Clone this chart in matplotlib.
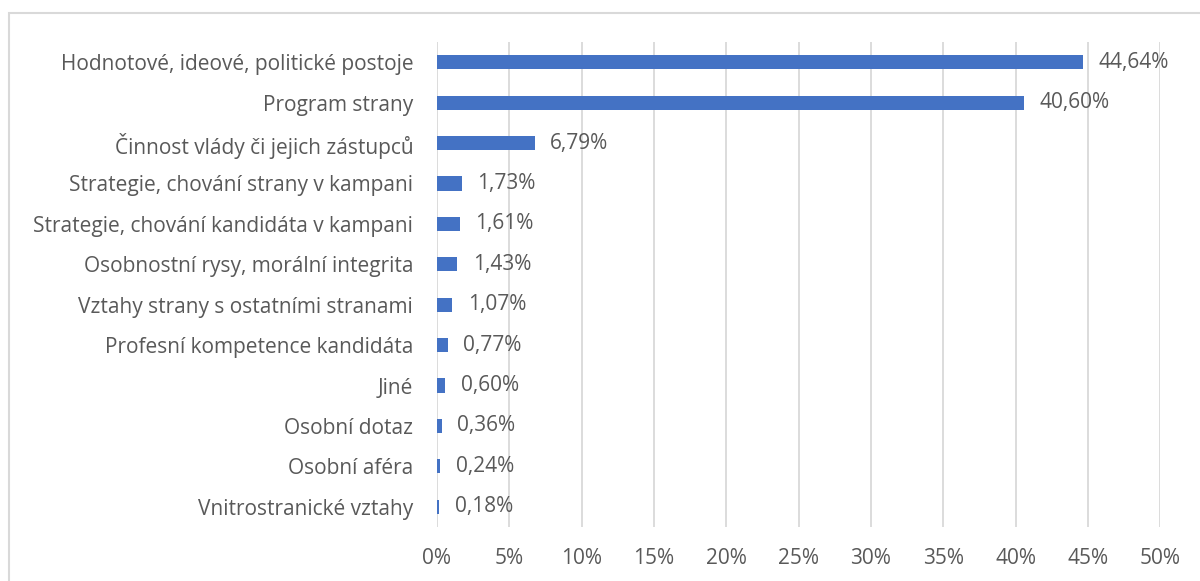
import matplotlib
matplotlib.use("Agg")
import matplotlib.pyplot as plt
from matplotlib.patches import Rectangle
from matplotlib.ticker import MultipleLocator, FuncFormatter

categories = [
    "Hodnotové, ideové, politické postoje",
    "Program strany",
    "Činnost vlády či jejich zástupců",
    "Strategie, chování strany v kampani",
    "Strategie, chování kandidáta v kampani",
    "Osobnostní rysy, morální integrita",
    "Vztahy strany s ostatními stranami",
    "Profesní kompetence kandidáta",
    "Jiné",
    "Osobní dotaz",
    "Osobní aféra",
    "Vnitrostranické vztahy",
]
shares = [44.64, 40.60, 6.79, 1.73, 1.61, 1.43, 1.07, 0.77, 0.60, 0.36, 0.24, 0.18]

text_color = "#595959"
grid_color = "#d9d9d9"
bar_color = "#4472c4"
fsize = 15

plt.rcParams["font.family"] = ["Open Sans", "DejaVu Sans"]

fig = plt.figure(figsize=(12, 5.81), dpi=100)
ax = fig.add_axes([0.364, 0.0929, 0.603, 0.8348])

pos = list(range(len(categories)))
ax.barh(pos, shares, height=0.35, color=bar_color, zorder=3)

for y, v in zip(pos, shares):
    ax.annotate(f"{v:.2f}%".replace(".", ","), (v, y), xytext=(11, 0),
                textcoords="offset points", va="center", ha="left",
                fontsize=fsize, color=text_color)

ax.set_xlim(0, 50)
ax.set_ylim(len(categories) - 0.5, -0.5)
ax.set_yticks(pos)
ax.set_yticklabels(categories)
ax.xaxis.set_major_locator(MultipleLocator(5))
ax.xaxis.set_major_formatter(FuncFormatter(lambda x, _: f"{x:.0f}%"))
ax.grid(axis="x", color=grid_color, linewidth=1.3, zorder=0)
for s in ax.spines.values():
    s.set_visible(False)
ax.tick_params(axis="both", length=0, labelsize=fsize, labelcolor=text_color)
ax.tick_params(axis="y", pad=17)
ax.tick_params(axis="x", pad=15)

# light frame around the chart area
fig.patches.append(Rectangle((9 / 1200, -0.1), 1.2, 1 - 13 / 581 + 0.1,
                             transform=fig.transFigure, fill=False,
                             edgecolor=grid_color, linewidth=1.5))

fig.savefig("out.png", dpi=100)
